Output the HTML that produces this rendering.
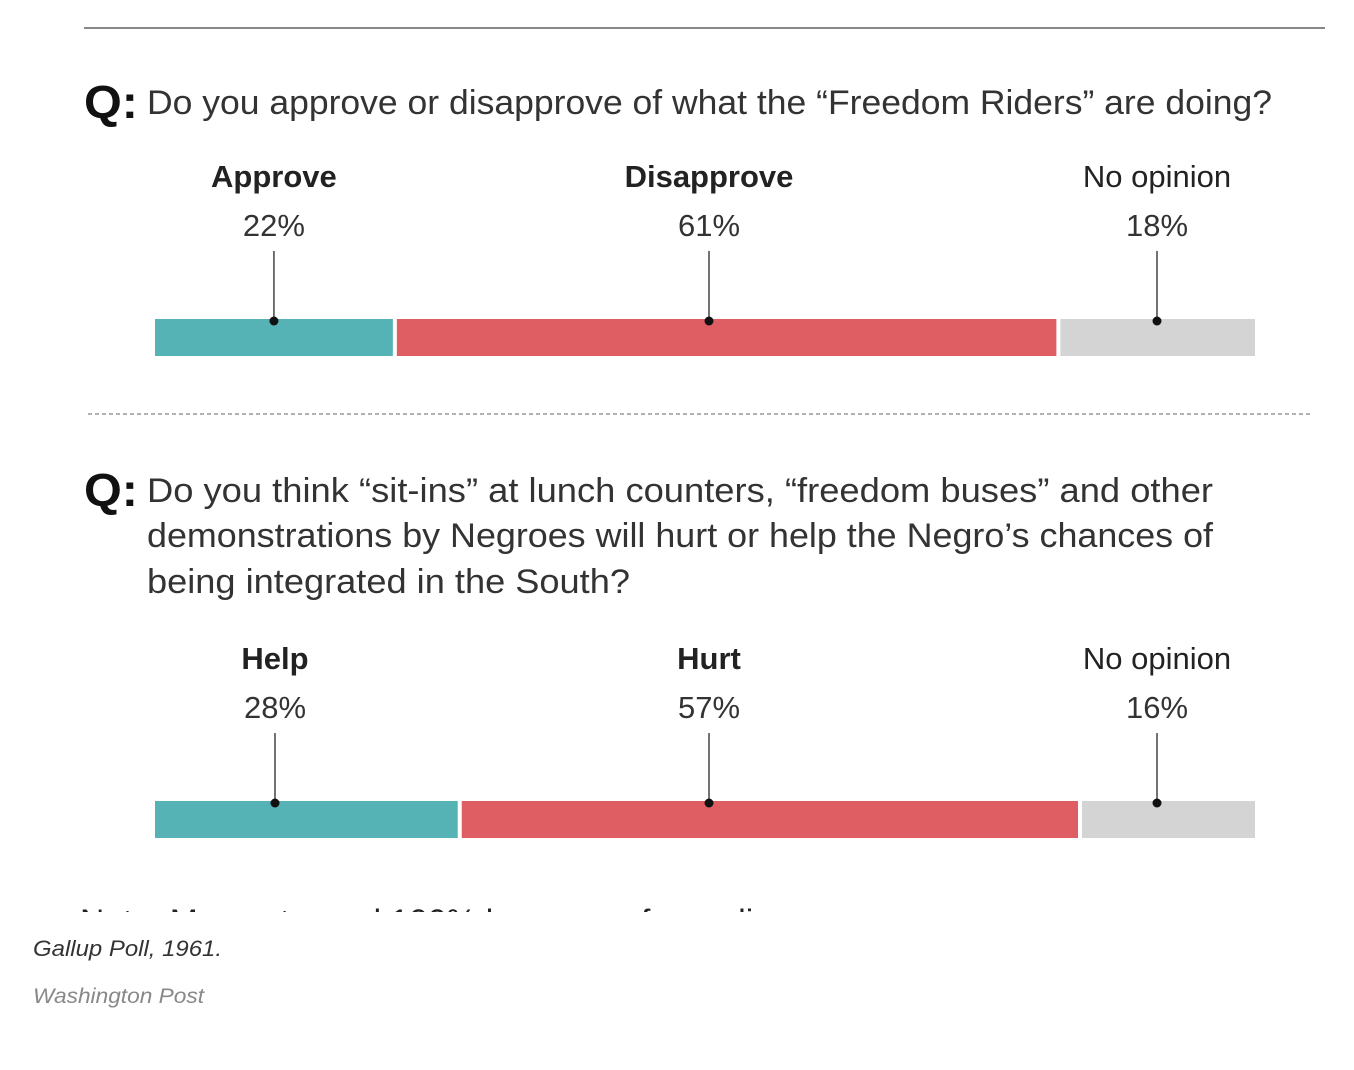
<!DOCTYPE html>
<html><head><meta charset="utf-8"><style>
html,body{margin:0;padding:0;background:#fff;}
svg{display:block;font-family:"Liberation Sans",Arial,sans-serif;}
</style></head><body>
<svg id="chart" width="1354" height="1070" viewBox="0 0 1354 1070">
  <line x1="84" y1="28" x2="1325" y2="28" stroke="#888" stroke-width="2"/>
  <text x="84" y="118" font-size="46" font-weight="bold" fill="#111" textLength="54" lengthAdjust="spacingAndGlyphs">Q:</text>
  <text x="147" y="114" font-size="34" fill="#333" textLength="1125" lengthAdjust="spacingAndGlyphs">Do you approve or disapprove of what the “Freedom Riders” are doing?</text>
  <line x1="88" y1="414" x2="1313" y2="414" stroke="#999" stroke-width="1.5" stroke-dasharray="4,3"/>
  <text x="84" y="506" font-size="46" font-weight="bold" fill="#111" textLength="54" lengthAdjust="spacingAndGlyphs">Q:</text>
  <text x="147" y="502" font-size="34" fill="#333" textLength="1066" lengthAdjust="spacingAndGlyphs">Do you think “sit-ins” at lunch counters, “freedom buses” and other</text>
  <text x="147" y="547" font-size="34" fill="#333" textLength="1066" lengthAdjust="spacingAndGlyphs">demonstrations by Negroes will hurt or help the Negro’s chances of</text>
  <text x="147" y="593" font-size="34" fill="#333" textLength="483" lengthAdjust="spacingAndGlyphs">being integrated in the South?</text>
  <g id="bars1"></g>
  <g id="bars2"></g>
  <clipPath id="noteclip"><rect x="0" y="903" width="1354" height="9"/></clipPath>
  <text x="80" y="932" font-size="32" fill="#222" clip-path="url(#noteclip)" textLength="720" lengthAdjust="spacingAndGlyphs">Note: May not equal 100% because of rounding.</text>
  <text x="33" y="956" font-size="22" font-style="italic" fill="#333" textLength="189" lengthAdjust="spacingAndGlyphs">Gallup Poll, 1961.</text>
  <text x="33" y="1003" font-size="21" font-style="italic" fill="#888" textLength="171" lengthAdjust="spacingAndGlyphs">Washington Post</text>
</svg>
<script>
const q1Categories = ["Approve", "Disapprove", "No opinion"];
const q1Values = [22, 61, 18];
const q2Categories = ["Help", "Hurt", "No opinion"];
const q2Values = [28, 57, 16];
const colors = ["#55b3b6", "#df5e64", "#d4d4d4"];
const NS = "http://www.w3.org/2000/svg";
const X0 = 155, X1 = 1255, GAP = 4;
function drawBars(gid, cats, vals, barY, labelY, prefix) {
  const g = document.getElementById(gid);
  const total = vals.reduce((a, b) => a + b, 0);
  const scale = (X1 - X0 - GAP * (vals.length - 1)) / total;
  let x = X0;
  vals.forEach((v, i) => {
    const w = v * scale;
    const r = document.createElementNS(NS, "rect");
    r.setAttribute("x", x); r.setAttribute("y", barY);
    r.setAttribute("width", w); r.setAttribute("height", 37);
    r.setAttribute("fill", colors[i]);
    
    
    g.appendChild(r);
    let cx = x + w / 2;
    if (i === 0) cx = Math.min(cx, X0 + 120);
    if (i === 1) cx = (X0 + X1) / 2 + 4;
    if (i === 2) cx = Math.min(cx, 1157);
    const ln = document.createElementNS(NS, "line");
    ln.setAttribute("x1", cx); ln.setAttribute("x2", cx);
    ln.setAttribute("y1", labelY + 25); ln.setAttribute("y2", barY + 2);
    ln.setAttribute("stroke", "#444"); ln.setAttribute("stroke-width", "1.5");
    
    
    g.appendChild(ln);
    const c = document.createElementNS(NS, "circle");
    c.setAttribute("cx", cx); c.setAttribute("cy", barY + 2); c.setAttribute("r", 4.5);
    c.setAttribute("fill", "#111");
    
    
    g.appendChild(c);
    const t1 = document.createElementNS(NS, "text");
    t1.setAttribute("x", cx); t1.setAttribute("y", labelY - 39);
    t1.setAttribute("text-anchor", "middle"); t1.setAttribute("font-size", "31");
    t1.setAttribute("fill", "#222");
    if (i < 2) t1.setAttribute("font-weight", "bold");
    t1.textContent = cats[i];
    
    
    g.appendChild(t1);
    const t2 = document.createElementNS(NS, "text");
    t2.setAttribute("x", cx); t2.setAttribute("y", labelY + 10);
    t2.setAttribute("text-anchor", "middle"); t2.setAttribute("font-size", "31");
    t2.setAttribute("fill", "#333");
    t2.textContent = v + "%";
    
    
    g.appendChild(t2);
    x += w + GAP;
  });
}
drawBars("bars1", q1Categories, q1Values, 319, 226, "q1");
drawBars("bars2", q2Categories, q2Values, 801, 708, "q2");
</script>
</body></html>
